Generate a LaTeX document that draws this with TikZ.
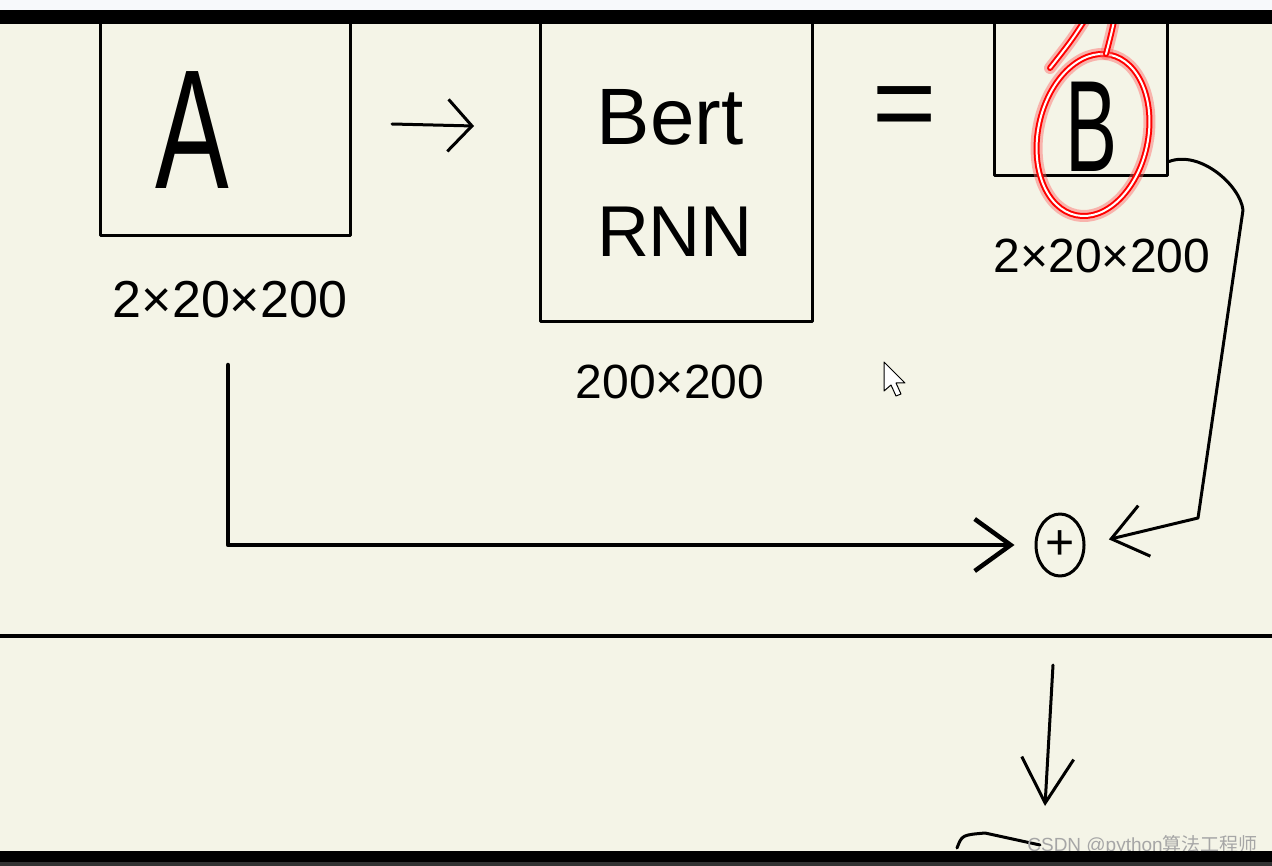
\documentclass[tikz,border=0pt]{standalone}
\usepackage{fontspec}
\setmainfont{Liberation Sans}
\newfontfamily\cjkfont{Noto Sans CJK SC}
\usetikzlibrary{arrows.meta,shapes.geometric}

\definecolor{paper}{HTML}{F4F4E7}
\definecolor{strip}{HTML}{F7F9FB}

\begin{document}
\begin{tikzpicture}[x=1pt, y=-1pt, line cap=round, line join=round,
  ink/.style={draw=black, line width=3pt},
  box/.style={ink, rectangle, inner sep=0pt},
  letter/.style={font=\fontsize{#1}{#1}\selectfont, inner sep=0pt},
  dims/.style={font=\fontsize{#1}{#1}\selectfont, inner sep=2pt},
  dims/.default=48,
  handarrow/.style={ink, -{Straight Barb[length=#1, width=52pt]}},
  handarrow/.default=30pt,
  glow/.style={draw=white, line width=2pt,
    preaction={draw=red!60, line width=12pt, opacity=.45},
    preaction={draw=red, line width=6pt}}]

  % Page
  \useasboundingbox (0,0) rectangle (1272,866);
  \fill[paper] (0,0) rectangle (1272,866);

  % Input, model and output boxes
  \node[box, minimum width=250pt, minimum height=250pt] (boxA) at (225,111) {};
  \node[letter=170, xscale=.65] (letA) at (192,130) {A};
  \node[box, minimum width=272pt, minimum height=340pt] (model) at (676,152) {};
  \node[letter=80] (bert) at (670,117) {Bert};
  \node[letter=72] (rnn) at (675,232) {RNN};
  \node[letter=110] (eq) at (905,114) {=};
  \node[box, minimum width=173pt, minimum height=158pt] (boxB) at (1081,97) {};
  \node[letter=130, xscale=.6] (letB) at (1092,127) {B};

  % Sizes
  \node[dims=52] (dimA) at (230,300) {2×20×200};
  \node[dims] (dimModel) at (670,382) {200×200};
  \node[dims] (dimB) at (1102,256) {2×20×200};

  % Red highlight round B
  \begin{scope}[shift={(1093,135)}, rotate=-12]
    \draw[glow] (0,0) ellipse (55 and 82);
  \end{scope}
  \draw[glow] (1050,68) .. controls (1072,40) .. (1090,12);
  \draw[glow] (1106,54) .. controls (1111,35) .. (1116,12);

  % Sum node
  \node[ink, ellipse, minimum width=48pt, minimum height=62pt, inner sep=0pt,
        font=\fontsize{50}{50}\selectfont] (plus) at (1060,545) {+};

  % Connectors
  \coordinate (feedStart) at (392,124);
  \coordinate (feedEnd) at (474,126);
  \draw[handarrow=24pt] (feedStart) -- (feedEnd);

  \coordinate (skipStart) at (228,365);
  \draw[handarrow=36pt, line width=4.5pt, shorten >=20pt] (skipStart) |- (plus);

  \draw[handarrow=34pt, shorten >=24pt] ([yshift=16pt]boxB.south east)
    .. controls (1200,150) and (1240,185) .. (1243,210) -- (1198,518) -- (plus.east);

  % Lower panel
  \draw[line width=4pt] (0,636) -- (1272,636);
  \coordinate (downStart) at (1053,665);
  \coordinate (downEnd) at (1045,806);
  \draw[handarrow=45pt] (downStart) -- (downEnd);
  \draw[ink] (957,848) .. controls (962,835) .. (985,833) -- (1040,845);

  % Mouse pointer
  \draw[fill=white, line width=1pt] (884,362) -- (884,391) -- (891,385) -- (896,396)
    -- (901,394) -- (896,383) -- (905,383) -- cycle;

  % Watermark
  \node[anchor=base east, text=gray!70, inner sep=0pt,
        font=\fontsize{19}{19}\selectfont] (mark) at (1258,851)
        {CSDN @python{\cjkfont 算法工程师}};

  % Screen bars
  \fill[strip] (0,0) rectangle (1272,10);
  \fill[black] (0,10) rectangle (1272,24);
  \fill[black] (0,851) rectangle (1272,862);
  \fill[black!80] (0,862) rectangle (1272,866);

\end{tikzpicture}
\end{document}
